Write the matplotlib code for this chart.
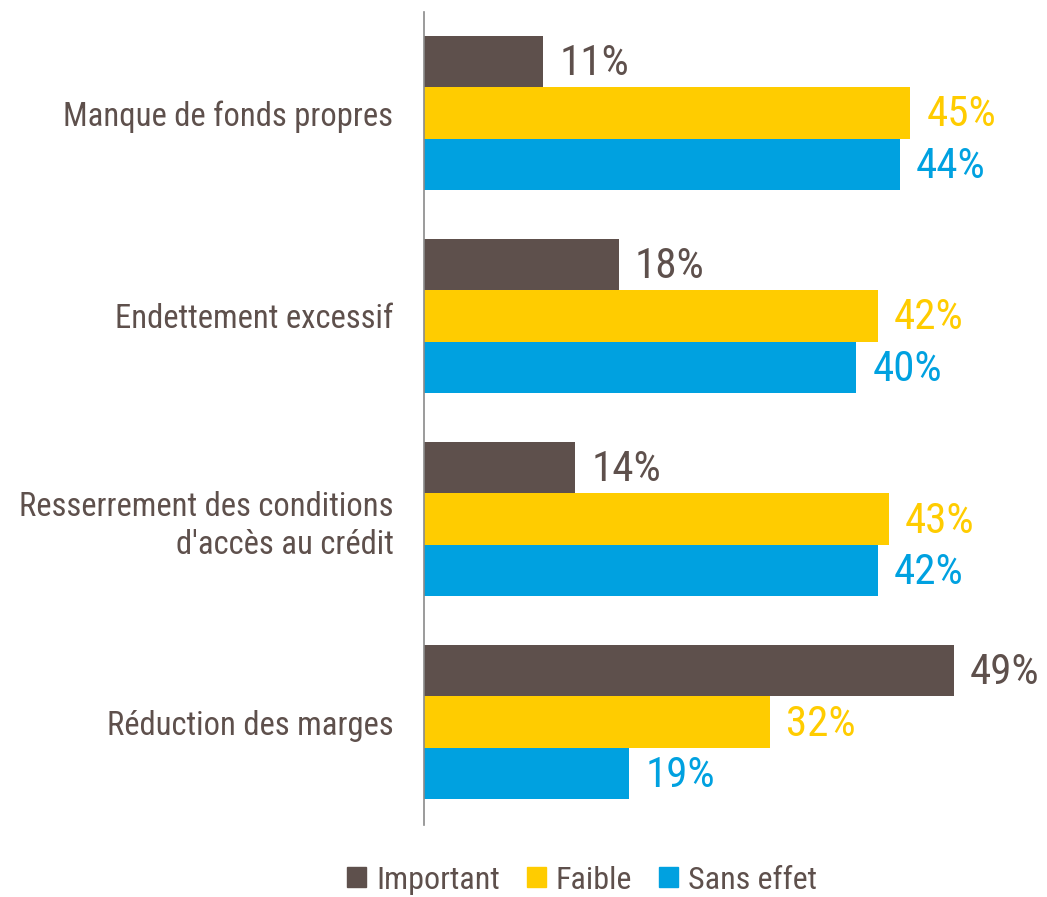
import matplotlib
matplotlib.use("Agg")
import matplotlib.pyplot as plt
from matplotlib.patches import Patch
import numpy as np

categories = ["Manque de fonds propres", "Endettement excessif",
              "Resserrement des conditions\nd'accès au crédit", "Réduction des marges"]
series_names = ["Important", "Faible", "Sans effet"]
important = [11, 18, 14, 49]
faible = [45, 42, 43, 32]
sans_effet = [44, 40, 42, 19]
colors = ["#5E504C", "#FFCC00", "#00A1E0"]
text_color = "#5E504C"

plt.rcParams["font.family"] = ["Roboto Condensed", "DejaVu Sans"]
plt.rcParams["font.weight"] = 400

fig = plt.figure(figsize=(10.47, 8.97), dpi=100)
ax = fig.add_axes([424/1047, 1-825/897, (1040-424)/1047, (825-12)/897])

values = [important, faible, sans_effet]
h = 0.253
y = np.arange(len(categories))
for i, (vals, c) in enumerate(zip(values, colors)):
    pos = y + (i - 1) * h
    ax.barh(pos, vals, height=h, color=c, label=series_names[i])
    for p, v in zip(pos, vals):
        ax.text(v + 1.5, p + 0.01, f"{v}%", va="center", ha="left", fontsize=31,
                color=c, clip_on=False)

ax.set_ylim(3.507, -0.497)
ax.set_xlim(0, 57)
ax.set_yticks(y)
ax.set_yticklabels(categories, fontsize=23.5, color=text_color, linespacing=1.25)
ax.tick_params(axis="y", length=0, pad=22)
ax.set_xticks([])
for s in ["top", "right", "bottom"]:
    ax.spines[s].set_visible(False)
ax.spines["left"].set_color("#8a8a8a")
ax.spines["left"].set_linewidth(1.2)

handles = [Patch(color=c) for c in colors]
leg = fig.legend(handles, series_names, loc="center", bbox_to_anchor=(582/1047, 1-880/897),
                 ncol=3, frameon=False, fontsize=23, handlelength=0.6, handleheight=0.6,
                 handletextpad=0.3, columnspacing=0.85)
for t in leg.get_texts():
    t.set_color(text_color)

fig.savefig("out.png", dpi=100)
